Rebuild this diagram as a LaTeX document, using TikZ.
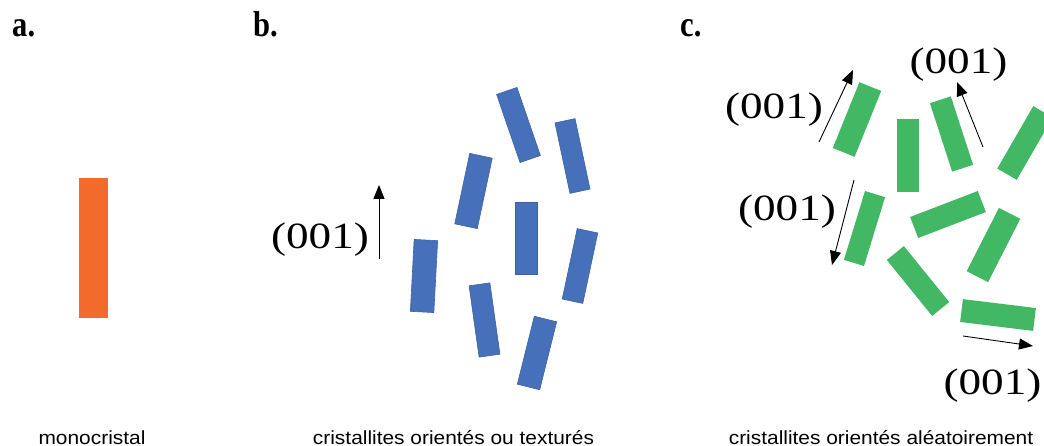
\documentclass[tikz,border=0pt]{standalone}
\usepackage{fontspec}
\usepackage{graphicx}
\setmainfont{Liberation Serif}
\newfontfamily\capfont{Liberation Sans}
\usetikzlibrary{arrows.meta}
\definecolor{monoorange}{HTML}{F26A2C}
\definecolor{texblue}{HTML}{4670BA}
\definecolor{texblueedge}{HTML}{3C62A6}
\definecolor{randgreen}{HTML}{43B864}
\begin{document}
\begin{tikzpicture}[x=1pt,y=-1pt,
  crystal/.style={rectangle, inner sep=0pt, minimum width=22pt, minimum height=72pt},
  bluecr/.style={crystal, fill=texblue, draw=texblueedge, line width=0.6pt},
  greencr/.style={crystal, fill=randgreen},
  dirarrow/.style={-{Triangle[length=14pt,width=11pt]}, line width=0.9pt},
  millerlbl/.style={inner sep=0pt, font=\fontsize{37}{37}\selectfont},
  panellbl/.style={inner sep=0pt, anchor=base west, font=\bfseries\fontsize{36}{36}\selectfont},
  captionlbl/.style={inner sep=0pt, anchor=base, font=\capfont\fontsize{19}{19}\selectfont}]
\useasboundingbox (0,0) rectangle (1044,446);
\fill[white] (0,0) rectangle (1044,446);

% panel labels
\node[panellbl] (la) at (12,37) {\scalebox{0.85}[1]{a.}};
\node[panellbl] (lb) at (253,37) {\scalebox{0.85}[1]{b.}};
\node[panellbl] (lc) at (680,37) {\scalebox{0.85}[1]{c.}};

% a. monocrystal
\node[rectangle, inner sep=0pt, fill=monoorange, minimum width=29pt, minimum height=140pt] (mono) at (93.5,248) {};

% b. textured crystallites
\node[bluecr, rotate=19, minimum width=21.5pt] (b1) at (518.5,125) {};
\node[bluecr, rotate=12, minimum width=20.5pt] (b2) at (572.5,156) {};
\node[bluecr, rotate=-12, minimum width=23pt] (b3) at (473.5,191) {};
\node[bluecr, rotate=0] (b4) at (526,238) {};
\node[bluecr, rotate=-12, minimum width=21pt] (b5) at (580,266) {};
\node[bluecr, rotate=-3, minimum width=23.5pt] (b6) at (424,276) {};
\node[bluecr, rotate=8, minimum width=21pt] (b7) at (484.5,320) {};
\node[bluecr, rotate=-14, minimum width=23pt, minimum height=70pt] (b8) at (537,353) {};

\node[millerlbl] (mb) at (320,240) {\scalebox{1.22}[1]{(001)}};
\coordinate (mbs) at (379,259);
\coordinate (mbe) at (379,185);
\draw[dirarrow] (mbs) -- (mbe);

% c. random crystallites
\node[greencr, rotate=-22, minimum width=23.5pt, minimum height=71pt] (g1) at (857,119.5) {};
\node[greencr, rotate=0, minimum height=73pt] (g2) at (908,155.5) {};
\node[greencr, rotate=18] (g3) at (951.5,134) {};
\node[greencr, rotate=-30, minimum width=22.5pt] (g4) at (1025,143) {};
\node[greencr, rotate=-17, minimum width=21pt] (g5) at (864.5,228.5) {};
\node[greencr, rotate=21, minimum width=72.5pt, minimum height=22.5pt] (g6) at (948,214.5) {};
\node[greencr, rotate=-27, minimum width=24pt, minimum height=71pt] (g7) at (993.5,245) {};
\node[greencr, rotate=-51, minimum width=72pt, minimum height=22pt] (g8) at (918,281) {};
\node[greencr, rotate=-7, minimum width=73.5pt, minimum height=23pt] (g9) at (998,315) {};

\node[millerlbl] (mc1) at (774,109.5) {\scalebox{1.22}[1]{(001)}};
\node[millerlbl] (mc2) at (958.5,65) {\scalebox{1.22}[1]{(001)}};
\node[millerlbl] (mc3) at (787,212) {\scalebox{1.22}[1]{(001)}};
\node[millerlbl] (mc4) at (992.5,386) {\scalebox{1.22}[1]{(001)}};

\coordinate (a1s) at (819,142);
\coordinate (a1e) at (853,70);
\coordinate (a2s) at (983,147);
\coordinate (a2e) at (957,82);
\coordinate (a3s) at (854,180);
\coordinate (a3e) at (832,265);
\coordinate (a4s) at (963,336);
\coordinate (a4e) at (1033,346);
\draw[dirarrow] (a1s) -- (a1e);
\draw[dirarrow] (a2s) -- (a2e);
\draw[dirarrow] (a3s) -- (a3e);
\draw[dirarrow] (a4s) -- (a4e);

% captions
\node[captionlbl] (capa) at (92,444) {\scalebox{1.1}[1]{monocristal}};
\node[captionlbl] (capb) at (453.5,444) {\scalebox{1.1}[1]{cristallites orientés ou texturés}};
\node[captionlbl] (capc) at (881,444) {\scalebox{1.1}[1]{cristallites orientés aléatoirement}};
\end{tikzpicture}
\end{document}
